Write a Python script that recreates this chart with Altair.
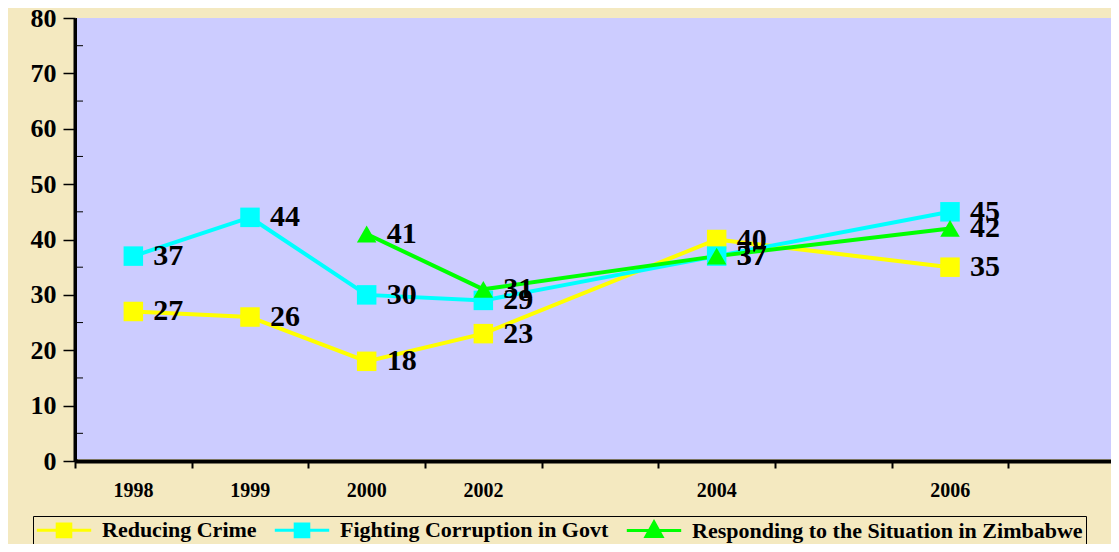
import json
import altair as alt
import pandas as pd

# ---- data -------------------------------------------------------------
x_slots = ["1998", "1999", "2000", "2002", "", "2004", "", "2006", ""]
years = ["1998", "1999", "2000", "2002", "2004", "2006"]
series_names = [
    "Reducing Crime",
    "Fighting Corruption in Govt",
    "Responding to the Situation in Zimbabwe",
]
reducing_crime = [27, 26, 18, 23, 40, 35]
fighting_corruption = [37, 44, 30, 29, 37, 45]
responding_zimbabwe = [None, None, 41, 31, 37, 42]
series_colors = ["#FFFF00", "#00FFFF", "#00FF00"]
y_ticks = [0, 10, 20, 30, 40, 50, 60, 70, 80]
minor_ticks = [5, 15, 25, 35, 45, 55, 65, 75]

BG = "#F4E9C0"
PLOT_BG = "#CCCCFF"
FONT = "Liberation Serif"

rows = []
for name, vals in zip(series_names, [reducing_crime, fighting_corruption, responding_zimbabwe]):
    for yr, v in zip(years, vals):
        if v is None:
            continue
        rows.append({"series": name, "year": yr, "slot": x_slots.index(yr) + 0.5, "value": v})
df = pd.DataFrame(rows)
minor_df = pd.DataFrame({"value": minor_ticks})

# ---- encodings ----------------------------------------------------------
x_enc = alt.X(
    "slot:Q",
    scale=alt.Scale(domain=[0, 8.88], nice=False, zero=False),
    axis=alt.Axis(
        values=list(range(len(x_slots))),
        labelExpr=json.dumps(x_slots) + "[datum.value]",
        labelOffset=58,
        labelFlush=False,
        labelOverlap=False,
        labelAngle=0,
        labelFont=FONT,
        labelFontSize=20,
        labelFontWeight="bold",
        labelColor="black",
        labelPadding=12,
        tickSize=7,
        tickWidth=2,
        tickColor="black",
        domainColor="black",
        domainWidth=4,
        grid=False,
        title=None,
    ),
)
y_enc = alt.Y(
    "value:Q",
    scale=alt.Scale(domain=[0, 80], nice=False),
    axis=alt.Axis(
        values=y_ticks,
        labelFont=FONT,
        labelFontSize=26,
        labelFontWeight="bold",
        labelColor="black",
        labelPadding=7,
        tickSize=12,
        tickWidth=1.5,
        tickColor="black",
        domainColor="black",
        domainWidth=4,
        grid=True,
        gridColor="black",
        gridWidth=1,
        title=None,
    ),
)

square_path = "M-3.4,0H3.4M-0.85,-0.8H0.85V0.8H-0.85Z"
triangle_path = "M-3.4,0H3.4M0,-1.05L1.0,0.75H-1.0Z"
shape_expr = (
    "datum.value === " + json.dumps(series_names[2]) + " ? '" + triangle_path
    + "' : '" + square_path + "'"
)
color_expr = "scale('color', datum.value)"
legend_def = alt.Legend(
    orient="none", legendX=-42, legendY=498, direction="horizontal",
    title=None, labelLimit=0,
    symbolType={"expr": shape_expr},
    symbolFillColor={"expr": color_expr},
    symbolStrokeColor={"expr": color_expr},
    symbolStrokeWidth=3,
    symbolSize=256,
    symbolOpacity=1,
    symbolOffset=17,
    labelOffset=27,
    columnPadding=11,
)
color_scale = alt.Scale(domain=series_names, range=series_colors)
color_enc = alt.Color("series:N", scale=color_scale, legend=legend_def)

base = alt.Chart(df)

plot_bg = alt.Chart(pd.DataFrame({"value": [0]})).mark_rect(color=PLOT_BG).encode(
    x=alt.value(2), x2=alt.value("width"), y=alt.value(0),
    y2=alt.value({"expr": "height - 2"}),
)

lines = base.mark_line(strokeWidth=4).encode(x=x_enc, y=y_enc, color=color_enc)

squares = base.transform_filter(
    alt.datum.series != series_names[2]
).mark_square(size=380, opacity=1).encode(x=x_enc, y=y_enc, color=color_enc)

triangles = base.transform_filter(
    alt.datum.series == series_names[2]
).mark_point(shape="triangle-up", filled=True, size=380, opacity=1).encode(
    x=x_enc, y=y_enc, color=color_enc
)

labels = base.mark_text(
    align="left", baseline="middle", dx=20,
    font=FONT, fontSize=30, fontWeight="bold", color="black",
).encode(x=x_enc, y=y_enc, text="value:Q")

minor = alt.Chart(minor_df).mark_rule(color="black", strokeWidth=1).encode(
    y=y_enc, x=alt.value(0), x2=alt.value(8)
)

chart = (
    alt.layer(plot_bg, minor, lines, squares, triangles, labels)
    .properties(
        width=1036,
        height=443,
        background=BG,
        padding={"left": 67, "top": 10, "right": 0, "bottom": 83},
        autosize=alt.AutoSizeParams(type="none"),
    )
    .configure_view(strokeWidth=0)
    .configure_legend(
        strokeColor="black",
        fillColor=BG,
        padding=3,
        labelFont=FONT,
        labelFontSize=22,
        labelFontWeight="bold",
        labelColor="black",
    )
)

chart.save("out.html", embed_options={"renderer": "svg", "actions": False})
